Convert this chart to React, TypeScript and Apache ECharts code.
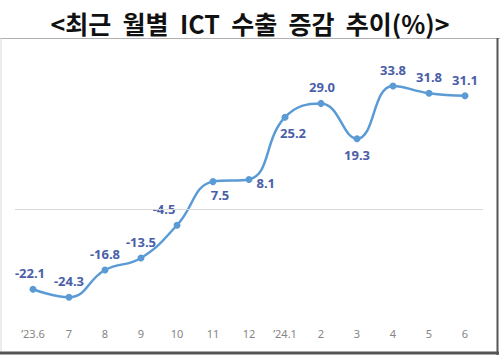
import React, { useEffect, useRef } from "react";
import * as echarts from "echarts";

const categories = ["’23.6", "7", "8", "9", "10", "11", "12", "’24.1", "2", "3", "4", "5", "6"];
const values = [-22.1, -24.3, -16.8, -13.5, -4.5, 7.5, 8.1, 25.2, 29.0, 19.3, 33.8, 31.8, 31.1];
const labelPlacement: { position: string; offset: number[] }[] = [
  { position: "top", offset: [-3, 0] },
  { position: "top", offset: [0, 0] },
  { position: "top", offset: [0, 0] },
  { position: "top", offset: [0, 0] },
  { position: "top", offset: [-13, 0] },
  { position: "bottom", offset: [7, -3] },
  { position: "right", offset: [-2, 4] },
  { position: "bottom", offset: [8, 0] },
  { position: "top", offset: [1, 0] },
  { position: "bottom", offset: [0, 0] },
  { position: "top", offset: [0, 0] },
  { position: "top", offset: [0, 0] },
  { position: "top", offset: [0, 0] },
];

export default function App() {
  const ref = useRef<HTMLDivElement>(null);
  useEffect(() => {
    if (!ref.current) return;
    const chart = echarts.init(ref.current, null, { renderer: "svg" });
    chart.setOption({
      animation: false,
      backgroundColor: "#ffffff",
      title: {
        text: "<최근  월별  ICT  수출  증감  추이(%)>",
        left: "center",
        top: 2,
        textStyle: {
          fontFamily: "Noto Sans CJK KR",
          fontWeight: "bold",
          fontSize: 25,
          lineHeight: 32,
          color: "#111111",
        },
      },
      graphic: [
        { type: "line", shape: { x1: 0, y1: 38.5, x2: 500, y2: 38.5 }, style: { stroke: "#b0b0b0", lineWidth: 1 } },
        { type: "line", shape: { x1: 1, y1: 38, x2: 1, y2: 352 }, style: { stroke: "#d8d8d8", lineWidth: 1 } },
        { type: "line", shape: { x1: 497.5, y1: 38, x2: 497.5, y2: 355 }, style: { stroke: "#555555", lineWidth: 2 } },
        { type: "line", shape: { x1: 0, y1: 353, x2: 499, y2: 353 }, style: { stroke: "#555555", lineWidth: 3 } },
      ],
      grid: { left: 15, right: 17, top: 63.4, bottom: 41, containLabel: false },
      xAxis: {
        type: "category",
        data: categories,
        boundaryGap: true,
        axisLine: { show: false },
        axisTick: { show: false },
        axisLabel: { color: "#858585", fontSize: 11, margin: 10, fontFamily: "Noto Sans" },
      },
      yAxis: {
        type: "value",
        min: -30,
        max: 40,
        show: false,
        splitLine: { show: false },
      },
      series: [
        {
          type: "line",
          data: values.map((v, i) => ({
            value: v,
            label: { position: labelPlacement[i].position, offset: labelPlacement[i].offset },
          })),
          smooth: 0.45,
          symbol: "circle",
          symbolSize: 7,
          lineStyle: { color: "#5b9bd5", width: 2.5 },
          itemStyle: { color: "#5b9bd5" },
          label: {
            show: true,
            formatter: (p: any) => Number(p.value).toFixed(1),
            color: "#4a5ea8",
            fontWeight: "bold",
            fontSize: 13,
            fontFamily: "Noto Sans",
            distance: 6,
          },
          markLine: {
            silent: true,
            symbol: "none",
            label: { show: false },
            lineStyle: { color: "#d9d9d9", type: "solid", width: 1 },
            data: [{ yAxis: 0 }],
          },
          z: 3,
        },
      ],
    });
    return () => chart.dispose();
  }, []);
  return (
    <div
      ref={ref}
      style={{ position: "fixed", left: 0, top: 0, width: 500, height: 359 }}
    />
  );
}
